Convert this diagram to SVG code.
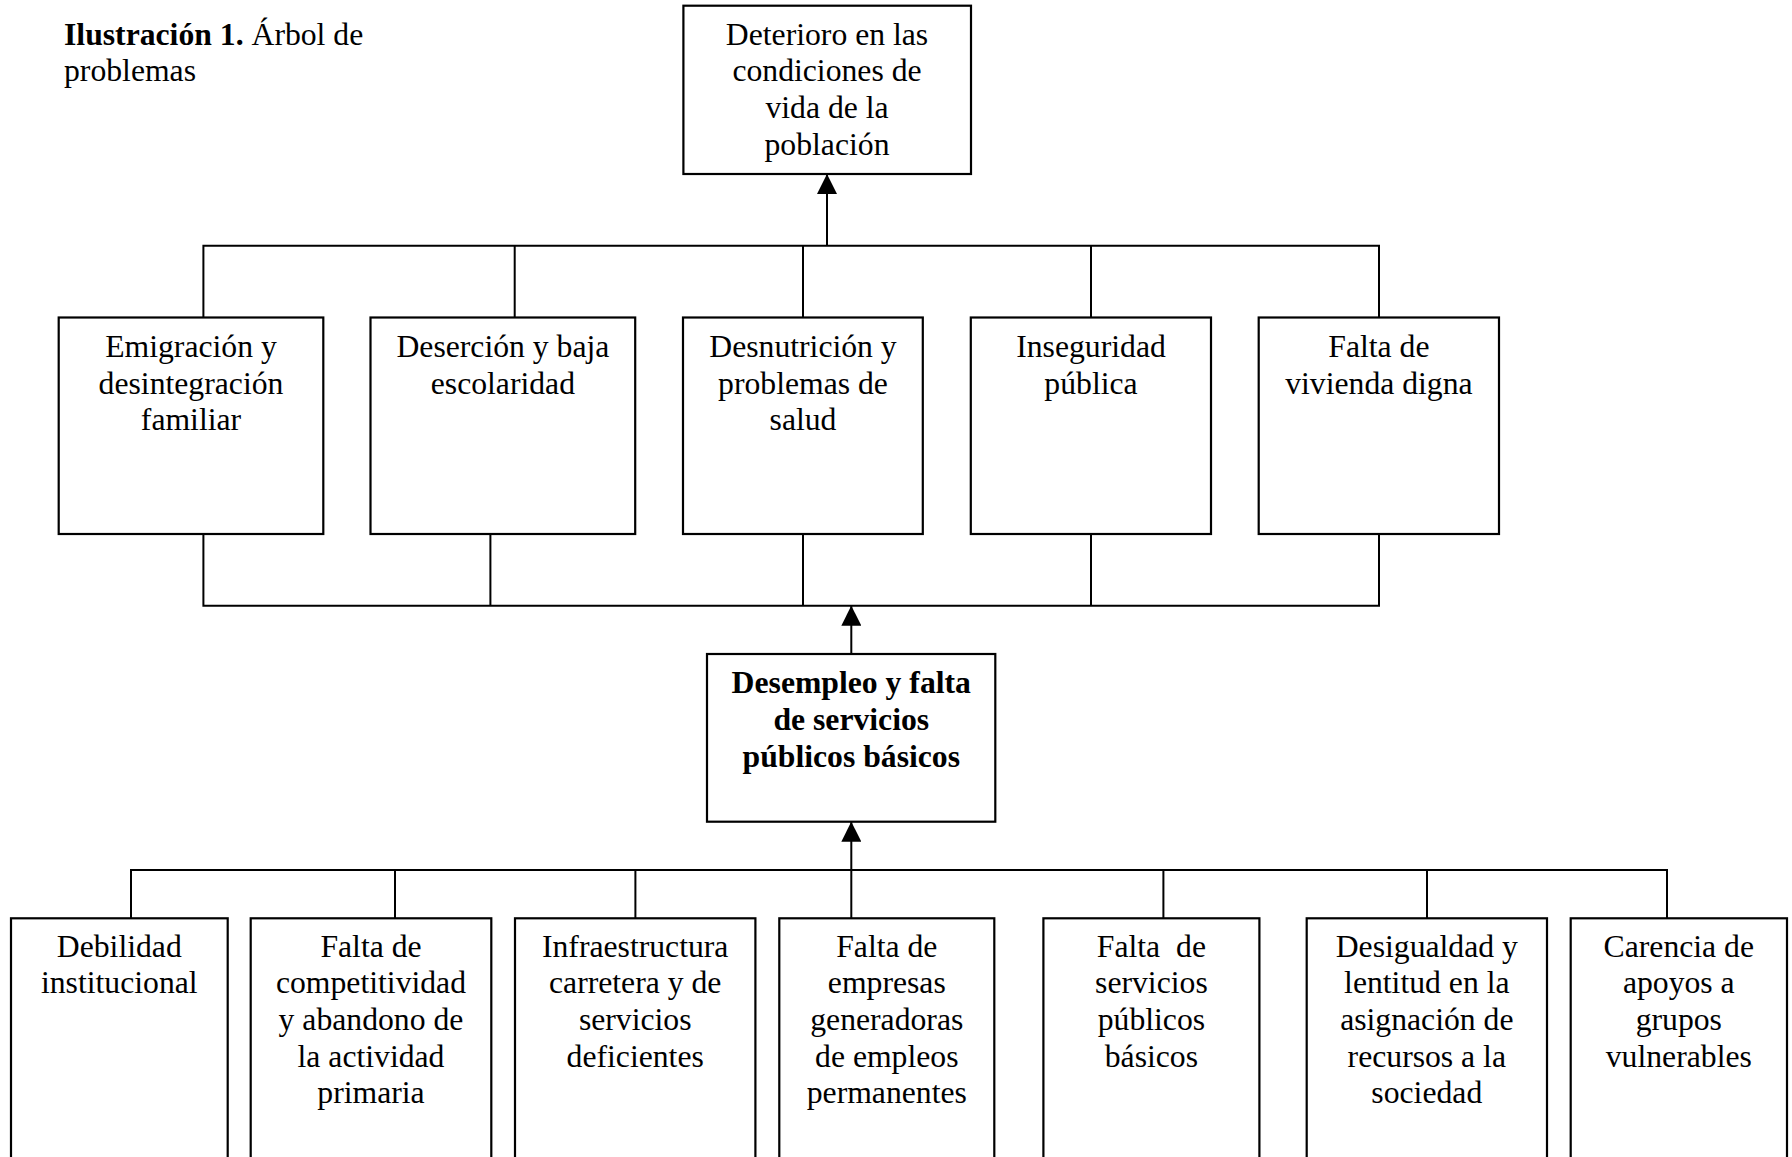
<svg xmlns="http://www.w3.org/2000/svg" width="1792" height="1157" viewBox="0 0 1792 1157">
<style>
.box{fill:#fff;stroke:#000;stroke-width:2.2}
.ln{fill:none;stroke:#000;stroke-width:2}
text{font-family:"Liberation Serif","Times New Roman",serif;font-size:31.7px;fill:#000}
.c{text-anchor:middle}
.b{font-weight:bold}
</style>
<defs>
<marker id="arr" markerUnits="userSpaceOnUse" markerWidth="20" markerHeight="20" refX="20" refY="10" orient="auto"><path d="M0,0 L20,10 L0,20 z" fill="#000"/></marker>
</defs>
<rect width="1792" height="1157" fill="#fff"/>
<g id="title"><text x="64" y="44.6"><tspan class="b">Ilustración 1.</tspan> Árbol de</text><text x="64" y="81.3">problemas</text></g>

<g id="connectors">
<path class="ln" d="M203.4,317.5V245.7H1379V317.5M514.7,245.7V317.5M803,245.7V317.5M1091,245.7V317.5"/>
<path class="ln" d="M827,245.7V174" marker-end="url(#arr)"/>
<path class="ln" d="M203.4,534V605.7H1379V534M490.4,605.7V534M803,605.7V534M1091,605.7V534"/>
<path class="ln" d="M851.3,654V605.7" marker-end="url(#arr)"/>
<path class="ln" d="M131,918.3V870H1667V918.3M395,870V918.3M635.4,870V918.3M1163.4,870V918.3M1427,870V918.3"/>
<path class="ln" d="M851.3,918.3V821.7" marker-end="url(#arr)"/>
</g>

<g id="n-top"><rect class="box" x="683.4" y="5.7" width="287.6" height="168.3"/>
<text class="c" x="827" y="44.6">Deterioro en las</text><text class="c" x="827" y="81.3">condiciones de</text><text class="c" x="827" y="118">vida de la</text><text class="c" x="827" y="154.7">población</text></g>

<g id="n-m1"><rect class="box" x="58.7" y="317.5" width="264.6" height="216.5"/>
<text class="c" x="191" y="357">Emigración y</text><text class="c" x="191" y="393.7">desintegración</text><text class="c" x="191" y="430.4">familiar</text></g>
<g id="n-m2"><rect class="box" x="370.5" y="317.5" width="264.7" height="216.5"/>
<text class="c" x="502.9" y="357">Deserción y baja</text><text class="c" x="502.9" y="393.7">escolaridad</text></g>
<g id="n-m3"><rect class="box" x="683" y="317.5" width="239.8" height="216.5"/>
<text class="c" x="803" y="357">Desnutrición y</text><text class="c" x="803" y="393.7">problemas de</text><text class="c" x="803" y="430.4">salud</text></g>
<g id="n-m4"><rect class="box" x="970.8" y="317.5" width="240.2" height="216.5"/>
<text class="c" x="1091" y="357">Inseguridad</text><text class="c" x="1091" y="393.7">pública</text></g>
<g id="n-m5"><rect class="box" x="1258.7" y="317.5" width="240.3" height="216.5"/>
<text class="c" x="1378.9" y="357">Falta de</text><text class="c" x="1378.9" y="393.7">vivienda digna</text></g>

<g id="n-core"><rect class="box" x="707" y="654" width="288.3" height="167.7"/>
<text class="c b" x="851.3" y="693.3">Desempleo y falta</text><text class="c b" x="851.3" y="730">de servicios</text><text class="c b" x="851.3" y="766.7">públicos básicos</text></g>

<g id="n-b1"><rect class="box" x="11" y="918.3" width="216.7" height="260"/>
<text class="c" x="119.3" y="957.3">Debilidad</text><text class="c" x="119.3" y="993.3">institucional</text></g>
<g id="n-b2"><rect class="box" x="250.7" y="918.3" width="240.6" height="260"/>
<text class="c" x="371" y="957.3">Falta de</text><text class="c" x="371" y="993.3">competitividad</text><text class="c" x="371" y="1030">y abandono de</text><text class="c" x="371" y="1066.7">la actividad</text><text class="c" x="371" y="1103.3">primaria</text></g>
<g id="n-b3"><rect class="box" x="515" y="918.3" width="240.4" height="260"/>
<text class="c" x="635.2" y="957.3">Infraestructura</text><text class="c" x="635.2" y="993.3">carretera y de</text><text class="c" x="635.2" y="1030">servicios</text><text class="c" x="635.2" y="1066.7">deficientes</text></g>
<g id="n-b4"><rect class="box" x="779.3" y="918.3" width="215" height="260"/>
<text class="c" x="886.8" y="957.3">Falta de</text><text class="c" x="886.8" y="993.3">empresas</text><text class="c" x="886.8" y="1030">generadoras</text><text class="c" x="886.8" y="1066.7">de empleos</text><text class="c" x="886.8" y="1103.3">permanentes</text></g>
<g id="n-b5"><rect class="box" x="1043.4" y="918.3" width="216" height="260"/>
<text class="c" x="1151.4" y="957.3" style="white-space:pre">Falta  de</text><text class="c" x="1151.4" y="993.3">servicios</text><text class="c" x="1151.4" y="1030">públicos</text><text class="c" x="1151.4" y="1066.7">básicos</text></g>
<g id="n-b6"><rect class="box" x="1306.7" y="918.3" width="240.3" height="260"/>
<text class="c" x="1426.8" y="957.3">Desigualdad y</text><text class="c" x="1426.8" y="993.3">lentitud en la</text><text class="c" x="1426.8" y="1030">asignación de</text><text class="c" x="1426.8" y="1066.7">recursos a la</text><text class="c" x="1426.8" y="1103.3">sociedad</text></g>
<g id="n-b7"><rect class="box" x="1570.7" y="918.3" width="216.3" height="260"/>
<text class="c" x="1678.8" y="957.3">Carencia de</text><text class="c" x="1678.8" y="993.3">apoyos a</text><text class="c" x="1678.8" y="1030">grupos</text><text class="c" x="1678.8" y="1066.7">vulnerables</text></g>
</svg>
